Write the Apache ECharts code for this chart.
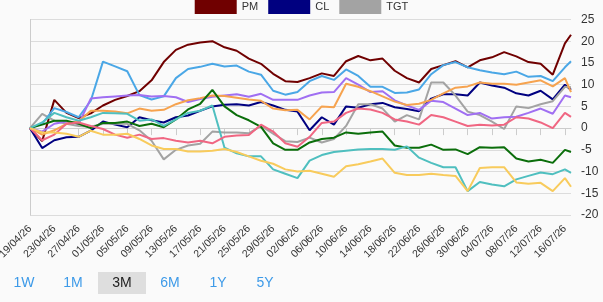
<!DOCTYPE html>
<html>
<head>
<meta charset="utf-8">
<script src="https://cdn.jsdelivr.net/npm/echarts@6/dist/echarts.min.js"></script>
<style>
  html, body { margin: 0; padding: 0; background: #fafafa; }
  #chart { position: absolute; left: 0; top: 0; width: 603px; height: 302px; }
  #ranges { position: absolute; left: 0; top: 272px; height: 22px; font-family: "Liberation Sans", Arial, sans-serif; }
  #ranges span { position: absolute; top: 0; width: 48px; height: 22px; line-height: 20px; text-align: center; font-size: 14px; color: #3d9ae8; }
  #ranges span.on { background: #dedede; color: #222; }
</style>
</head>
<body>
<div id="chart"></div>
<div id="ranges">
  <span style="left:0px">1W</span>
  <span style="left:49px">1M</span>
  <span style="left:98px" class="on">3M</span>
  <span style="left:146px">6M</span>
  <span style="left:194px">1Y</span>
  <span style="left:241px">5Y</span>
</div>
<script>
// days counted from 19/04/26
var startDate = [2026, 3, 19];
var days = [0, 2, 4, 6, 8, 10, 12, 14, 16, 18, 20, 22, 24, 26, 28, 30, 32, 34, 36, 38, 40, 42, 44,
            46, 48, 50, 52, 54, 56, 58, 60, 62, 64, 66, 68, 70, 72, 74, 76, 78, 80, 82, 84, 86, 88, 89];

var pm = [0, -3, 6.5, 3.5, 2.3, 3.4, 5.2, 6.5, 7.4, 8.5, 11, 15.2, 18, 19.2, 19.7, 20, 18.6, 17.8, 16.0, 14.8, 12.5, 10.8, 10.6,
          11.5, 12.6, 12, 15.4, 16.6, 15.6, 16.0, 13.2, 11.5, 10.5, 13.6, 14.5, 15.4, 14, 15.6, 16.3, 17.5, 16.5, 15.2, 14.8, 12.3, 19.5, 21.5];
var cl = [0, -4.6, -2.8, -2.1, -2.0, -0.6, 1.5, 0.8, 0.2, 2.5, 1.8, 1.3, 2.5, 2.9, 4.0, 5.0, 5.4, 5.5, 5.2, 6.0, 5.2, 4.2, 3.8,
          -0.5, 2.5, 0.8, 5.0, 4.7, 5.5, 5.8, 4.8, 4.4, 3.9, 6.8, 7.8, 7.8, 7.5, 10.5, 9.8, 9.3, 8.0, 7.5, 8.6, 6.6, 10, 8.8];
var tgt = [0, 3.3, 1.7, 1.0, 0.5, 0.3, 1.0, 1.0, 1.0, -0.5, -2.9, -7.2, -5, -4, -3.6, -0.8, -1, -1, -1.2, 0.5, -1.3, -3, -3.2,
           -2.2, -3.3, -2.5, 0.5, 5.5, 5.5, 4.5, 1.5, 3.0, 2.0, 10.5, 10.5, 7.5, 3.8, 3.0, 1.5, -0.2, 5.0, 4.6, 5.5, 6.2, 9.5, 9.4];
var skyBlue = [0, 1.0, 4.6, 3.7, 2.5, 6.3, 15.3, 14.2, 13.1, 7.6, 6.6, 7.3, 11.5, 13.6, 14.1, 14.8, 14.2, 14.4, 13, 12.3, 8.6, 7.7, 8.3,
               10.8, 12, 11.1, 13.5, 12.0, 9.5, 9.5, 8.1, 8.2, 8.9, 12.4, 14.5, 15.2, 14, 13.3, 12.8, 12.4, 13, 11.8, 12.0, 10.8, 14, 15.4];
var violet = [0, -0.8, 1.0, 1.5, 1.0, 6.8, 7.1, 7.3, 7.5, 7.6, 7.3, 7.4, 7.1, 6.0, 6.7, 7.2, 7.5, 7.8, 7.2, 7.9, 6.5, 6.5, 6.5,
              7.5, 8.2, 8.3, 11.5, 10, 8.3, 8.5, 6.4, 5.2, 4.2, 6.3, 6.0, 4.5, 3, 3.5, 2.2, 2.5, 2.6, 3.5, 4.5, 3.3, 7.5, 7.1];
var amber = [0, -1.5, -0.5, 1.0, 1.5, 4.0, 4.0, 3.8, 3.4, 4.5, 4.0, 4.2, 5.5, 6.4, 6.9, 7.5, 7.4, 7.0, 6.6, 6.3, 4.5, 4.1, 4.2,
             2.0, 5.0, 4.8, 10.2, 9.5, 8.5, 7.3, 6.1, 5.3, 5.6, 6.5, 8.0, 9.3, 9.6, 10.5, 10.2, 10.2, 10.0, 10.5, 11.0, 9.6, 11.5, 8.3];
var forest = [0, 0.8, 1.7, 1.7, 1.0, 0, 1.2, 1.2, 1.5, 0.5, 1.0, 0.2, 2.0, 4.3, 5.6, 8.8, 5.0, 3, 1.8, 0.3, -3.5, -5.0, -5,
              -3.3, -2.5, -2.2, -1.0, -1.3, -1.0, -0.8, -4.0, -4.5, -4.5, -3.8, -5.0, -4.9, -6.0, -4.4, -4.5, -4.4, -7.0, -7.7, -7.3, -8.0, -5.0, -5.5];
var aqua = [0, 1.3, 3.5, 2.5, 1.7, 2.5, 3.5, 3.4, 3.3, 1.7, 2.0, 0.5, 2.0, 3.5, 4.0, 5.2, -4.5, -5.8, -6.5, -6.5, -9.5, -10.5, -11.5,
            -7.5, -6.2, -5.5, -5.2, -4.9, -4.8, -4.8, -5.0, -4.2, -6.8, -8.0, -9.0, -9.0, -14.5, -12.4, -13.0, -13.4, -11.8, -11, -10.2, -10.6, -9.5, -10.3];
var rose = [0, -2.8, -1.5, 1.0, 1.3, 0.5, -0.2, -1.5, -2.2, -1.5, -2.5, -2.3, -2.9, -3.3, -2.9, -3.5, -2.0, -1.7, -1.6, 0.8, -0.8, -3.5, -4.3,
            -2.0, 1.2, 1.5, 3.5, 4.5, 4.3, 3.5, 2.0, 1.5, 0.8, 3.0, 2.5, 1.5, 0.5, 0.8, 0.6, 0.8, 2.5, 2.2, 1.3, 0.0, 3.5, 2.6];
var gold = [0, -1.0, -1.0, -1.3, -2.0, -0.6, -1.5, -1.5, -1.3, -2.5, -4.0, -4.8, -4.8, -5.4, -5.4, -5.2, -4.8, -5.5, -6.5, -7.5, -8.2, -9.5, -10,
            -9.8, -10.5, -11.2, -8.8, -8.3, -7.7, -7.0, -10.3, -10.8, -10.8, -10.5, -10.8, -11, -14.5, -9.2, -9.0, -9.0, -12.5, -12.8, -12.6, -14.5, -11.5, -13.5];

var lines = [
  { name: 'PM',  data: pm,      color: '#700000' },
  { name: 'CL',  data: cl,      color: '#000080' },
  { name: 'TGT', data: tgt,     color: '#a3a3a3' },
  { name: 'S4',  data: skyBlue, color: '#4aa7e6' },
  { name: 'S5',  data: violet,  color: '#a06ff2' },
  { name: 'S6',  data: amber,   color: '#f6a34f' },
  { name: 'S7',  data: forest,  color: '#0b6e0b' },
  { name: 'S8',  data: aqua,    color: '#4fbfbf' },
  { name: 'S9',  data: rose,    color: '#f06682' },
  { name: 'S10', data: gold,    color: '#f8cb5c' }
];

function pad(n) { return n < 10 ? '0' + n : '' + n; }
function dayLabel(d) {
  var dt = new Date(startDate[0], startDate[1], startDate[2] + d);
  return pad(dt.getDate()) + '/' + pad(dt.getMonth() + 1) + '/' + pad(dt.getFullYear() % 100);
}

var series = [];
for (var i in lines) {
  var pts = [];
  for (var k = 0; k < days.length; k++) {
    pts.push([days[k], lines[i].data[k]]);
  }
  series.push({
    name: lines[i].name,
    type: 'line',
    data: pts,
    showSymbol: false,
    symbol: 'none',
    lineStyle: { width: 2, color: lines[i].color },
    itemStyle: { color: lines[i].color },
    animation: false
  });
}

var myChart = echarts.init(document.getElementById('chart'));
myChart.setOption({
  backgroundColor: '#fafafa',
  textStyle: { fontFamily: '"Liberation Sans", Arial, sans-serif' },
  legend: {
    data: ['PM', 'CL', 'TGT'],
    top: -5,
    left: 'center',
    icon: 'rect',
    itemWidth: 42,
    itemHeight: 14,
    itemGap: 10,
    textStyle: { fontSize: 11, color: '#333' }
  },
  grid: { left: 30, right: 32, top: 19.5, bottom: 87, containLabel: false, outerBoundsMode: 'none' },
  xAxis: {
    type: 'value',
    min: 0,
    max: 89,
    interval: 4,
    axisLine: { lineStyle: { color: '#ccc' } },
    axisTick: { show: true, length: 7, lineStyle: { color: '#ccc' } },
    splitLine: { show: false },
    axisLabel: {
      rotate: 45,
      fontSize: 10.5,
      color: '#333',
      margin: 12,
      showMaxLabel: false,
      hideOverlap: false,
      formatter: function (v) { return v % 4 === 0 ? dayLabel(v) : ''; }
    }
  },
  yAxis: {
    type: 'value',
    position: 'right',
    min: -20,
    max: 25,
    interval: 5,
    axisLine: { show: true, lineStyle: { color: '#ccc' } },
    axisTick: { show: false },
    splitLine: { lineStyle: { color: '#dcdcdc' } },
    axisLabel: { fontSize: 12, color: '#333', margin: 10 }
  },
  series: series
});
</script>
</body>
</html>
